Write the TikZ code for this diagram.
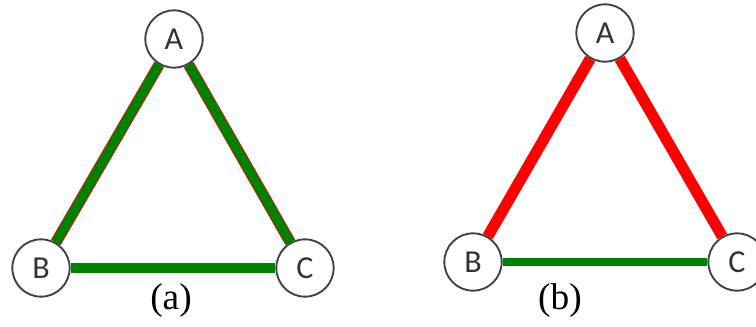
\documentclass[tikz,border=0pt]{standalone}
\usepackage{fontspec}
\newfontfamily\lettersf{Carlito}
\newfontfamily\capfont{Liberation Serif}
\usepackage{tikz}
\usetikzlibrary{positioning}

\begin{document}
\begin{tikzpicture}[
    x=0.75pt, y=-0.75pt,
    vertex/.style={circle, draw=black!75, line width=1.4pt, minimum size=43pt, inner sep=0pt, font=\lettersf\fontsize{24}{28}\selectfont\color{black!80}},
    caption/.style={font=\capfont\fontsize{28}{32}\selectfont},
    rededge/.style={draw=red, line width=8.4pt},
    greenedge/.style={draw=green!50!black, line width=6.2pt},
    outlined/.style={draw=red, line width=8.4pt}
]
    \useasboundingbox (0,0) rectangle (756,326);

    % Graph (a)
    \node[vertex] (a1) at (174,39) {A};
    \node[vertex] (b1) at (41,268) {B};
    \node[vertex] (c1) at (305,268) {C};
    \node[caption] (capa) at (171,301) {(a)};

    \draw[outlined] (a1) -- (b1);
    \draw[outlined] (a1) -- (c1);
    \draw[greenedge, line width=7.2pt] (a1) -- (b1);
    \draw[greenedge, line width=7.2pt] (a1) -- (c1);
    \draw[greenedge, line width=7.5pt] (b1) -- (c1);

    % Graph (b)
    \node[vertex] (a2) at (605,33) {A};
    \node[vertex] (b2) at (473,262) {B};
    \node[vertex] (c2) at (737,262) {C};
    \node[caption] (capb) at (560,301) {(b)};

    \draw[rededge] (a2) -- (b2);
    \draw[rededge] (a2) -- (c2);
    \draw[greenedge] (b2) -- (c2);
\end{tikzpicture}
\end{document}
